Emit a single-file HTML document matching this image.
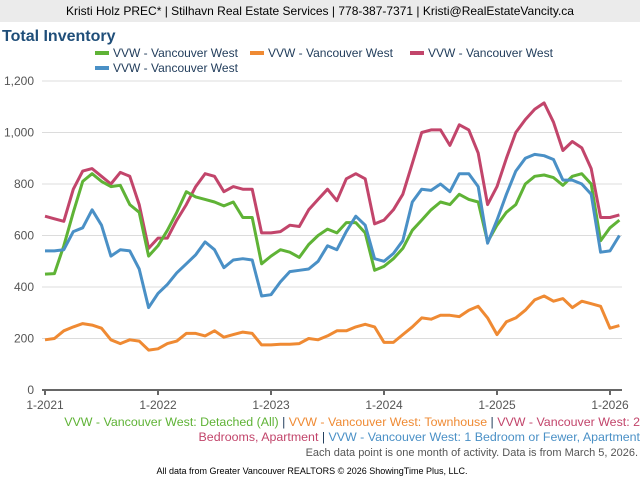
<!DOCTYPE html>
<html><head><meta charset="utf-8"><style>
body{margin:0;width:640px;height:480px;background:#fff;font-family:"Liberation Sans",sans-serif;overflow:hidden}
</style></head><body>
<svg width="640" height="480" xmlns="http://www.w3.org/2000/svg" font-family="Liberation Sans, sans-serif">
<rect x="0" y="0" width="640" height="22" fill="#ebebeb"/>
<text x="320" y="15" text-anchor="middle" font-size="12" fill="#000">Kristi Holz PREC* | Stilhavn Real Estate Services | 778-387-7371 | Kristi@RealEstateVancity.ca</text>
<text x="2" y="41" font-size="16" font-weight="bold" fill="#1f4e79">Total Inventory</text>
<g font-size="12" fill="#1f3b5a">
<rect x="95" y="51" width="14" height="4" fill="#5fb336"/><text x="113" y="57">VVW - Vancouver West</text>
<rect x="250" y="51" width="14" height="4" fill="#ef8a33"/><text x="268" y="57">VVW - Vancouver West</text>
<rect x="410" y="51" width="14" height="4" fill="#c2456b"/><text x="428" y="57">VVW - Vancouver West</text>
<rect x="95" y="66" width="14" height="4" fill="#4a90c6"/><text x="113" y="72">VVW - Vancouver West</text>
</g>
<g id="grid" stroke="#dcdcdc" stroke-width="1"></g>
<g id="ylab" font-size="12" fill="#555" text-anchor="end"></g>
<line x1="42" y1="390" x2="622" y2="390" stroke="#666" stroke-width="2"/>
<g id="xt" font-size="12" fill="#555" text-anchor="middle"></g>
<g id="series" fill="none" stroke-width="3" stroke-linejoin="round"></g>
<g font-size="12.4" text-anchor="end">
<text x="640" y="426"><tspan fill="#5fb336">VVW - Vancouver West: Detached (All)</tspan><tspan fill="#1f3b5a"> | </tspan><tspan fill="#ef8a33">VVW - Vancouver West: Townhouse</tspan><tspan fill="#1f3b5a"> | </tspan><tspan fill="#c2456b">VVW - Vancouver West: 2</tspan></text>
<text x="640" y="441"><tspan fill="#c2456b">Bedrooms, Apartment</tspan><tspan fill="#1f3b5a"> | </tspan><tspan fill="#4a90c6">VVW - Vancouver West: 1 Bedroom or Fewer, Apartment</tspan></text>
<text x="638" y="456" font-size="11" fill="#555">Each data point is one month of activity. Data is from March 5, 2026.</text>
</g>
<text x="312" y="474" font-size="9" fill="#000" text-anchor="middle">All data from Greater Vancouver REALTORS © 2026 ShowingTime Plus, LLC.</text>
</svg>
<script>
var NS="http://www.w3.org/2000/svg";
function el(p,t,a,txt){var e=document.createElementNS(NS,t);for(var k in a)e.setAttribute(k,a[k]);if(txt!=null)e.textContent=txt;document.getElementById(p).appendChild(e);}
function Y(v){return 390-v*51.5/200;}
function X(i){return 45+i*113/12;}
var labs=["0","200","400","600","800","1,000","1,200"];
for(var j=0;j<7;j++){if(j>0)el("grid","line",{x1:42,x2:622,y1:Y(j*200),y2:Y(j*200)});el("ylab","text",{x:34,y:Y(j*200)+4},labs[j]);}
for(var y=0;y<6;y++){var x=X(y*12);el("xt","line",{x1:x,x2:x,y1:390,y2:395,stroke:"#666","stroke-width":2});el("xt","text",{x:x,y:409},"1-"+(2021+y));}
var S=[
["#ef8a33",[195,200,230,245,258,252,240,195,180,195,190,155,160,180,190,220,220,210,230,205,215,225,220,175,175,178,178,180,200,195,210,230,230,245,255,245,185,185,215,245,280,275,290,290,285,310,325,280,215,265,280,310,350,365,345,355,320,345,335,325,240,250,255]],
["#c2456b",[675,665,655,780,850,860,830,800,845,830,720,550,590,590,660,720,790,840,830,770,790,780,780,610,610,615,640,635,700,740,780,735,820,840,820,645,660,700,760,880,1000,1010,1010,950,1030,1010,920,720,790,900,1000,1050,1090,1115,1040,930,965,940,860,670,670,680]],
["#5fb336",[450,452,560,690,810,840,810,790,795,720,690,520,560,620,690,770,750,740,730,715,730,670,670,490,520,545,535,515,565,600,625,610,650,650,610,465,480,510,550,620,660,700,730,720,760,740,730,575,640,690,720,800,830,835,825,795,830,840,800,580,630,660]],
["#4a90c6",[540,540,545,615,630,700,640,520,545,540,470,320,375,410,455,490,525,575,545,475,505,510,505,365,370,420,460,465,470,500,560,545,615,675,640,510,500,530,580,730,780,775,800,770,840,840,790,570,660,760,850,900,915,910,895,815,815,800,760,535,540,600]]
];
S.forEach(function(s){var d=s[1].slice(0,62).map(function(v,i){return X(i).toFixed(1)+","+Y(v).toFixed(1)}).join(" ");el("series","polyline",{points:d,stroke:s[0]});});
</script>
</body></html>
